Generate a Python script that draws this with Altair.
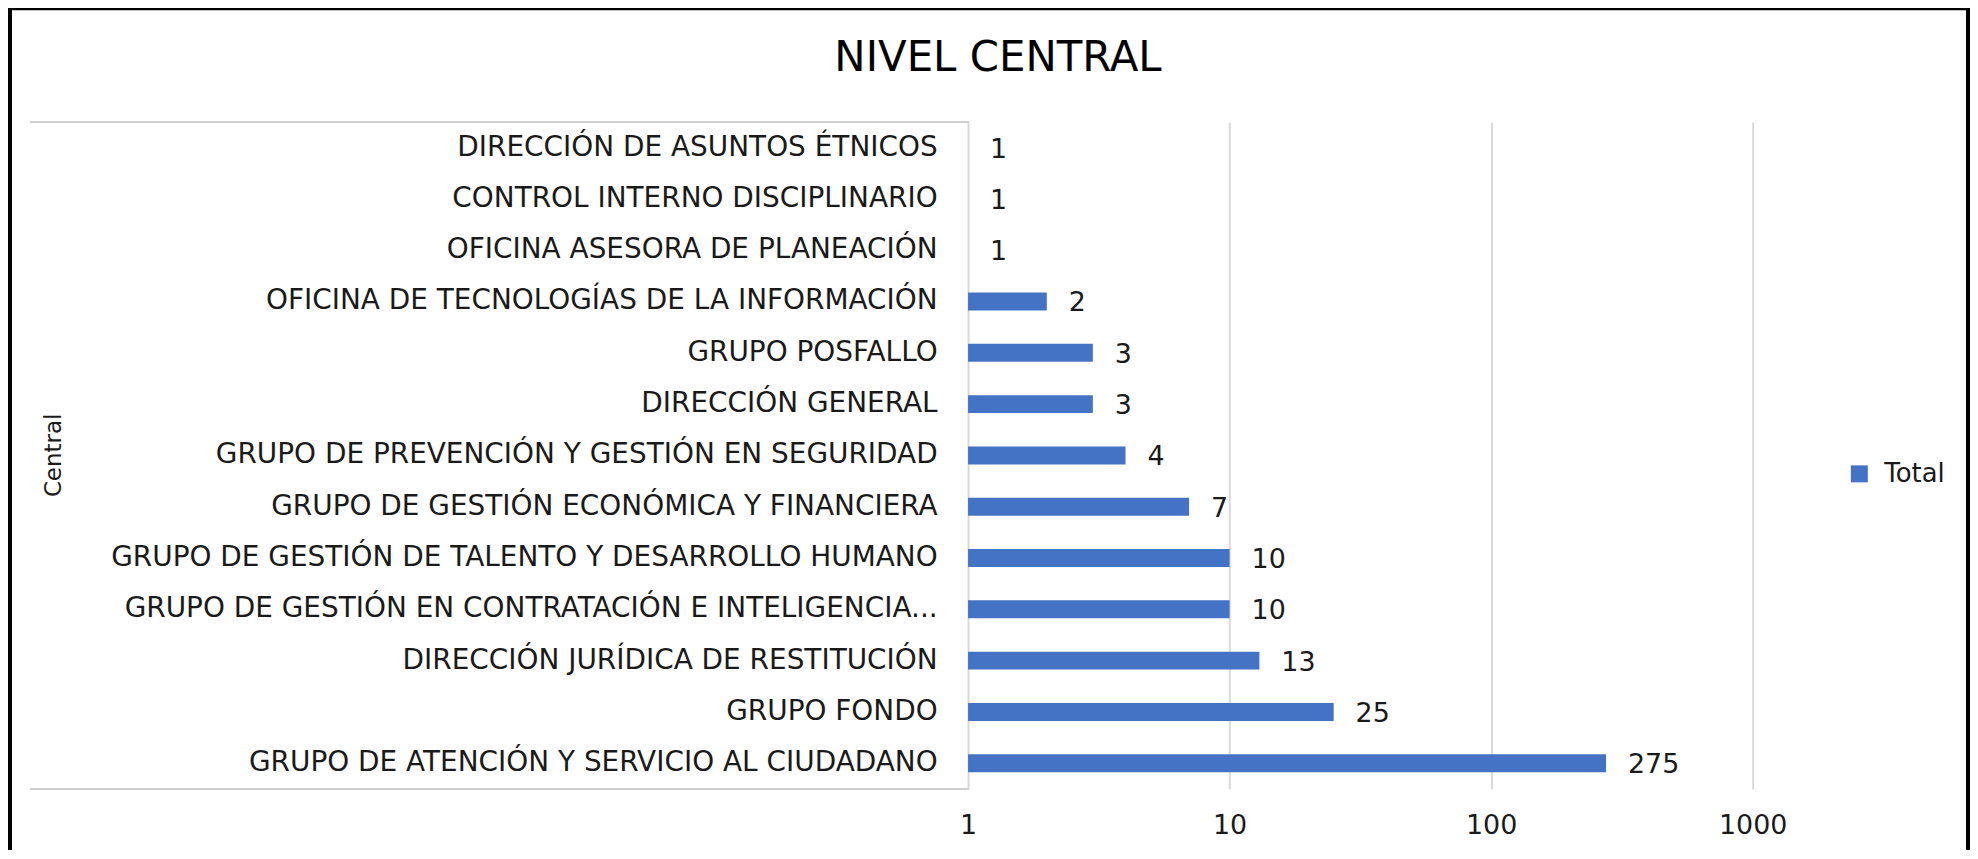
import altair as alt
import pandas as pd

categorias = [
    "DIRECCIÓN DE ASUNTOS ÉTNICOS",
    "CONTROL INTERNO DISCIPLINARIO",
    "OFICINA ASESORA DE PLANEACIÓN",
    "OFICINA DE TECNOLOGÍAS DE LA INFORMACIÓN",
    "GRUPO POSFALLO",
    "DIRECCIÓN GENERAL",
    "GRUPO DE PREVENCIÓN Y GESTIÓN EN SEGURIDAD",
    "GRUPO DE GESTIÓN ECONÓMICA Y FINANCIERA",
    "GRUPO DE GESTIÓN DE TALENTO Y DESARROLLO HUMANO",
    "GRUPO DE GESTIÓN EN CONTRATACIÓN E INTELIGENCIA...",
    "DIRECCIÓN JURÍDICA DE RESTITUCIÓN",
    "GRUPO FONDO",
    "GRUPO DE ATENCIÓN Y SERVICIO AL CIUDADANO",
]
valores = [1, 1, 1, 2, 3, 3, 4, 7, 10, 10, 13, 25, 275]
serie = ["Total"] * len(categorias)
ticks_x = [1, 10, 100, 1000]
base_x = 1

FONT = "DejaVu Sans"
TXT = "#1a1a1a"
BLUE = "#4472c4"

df = pd.DataFrame({"cat": categorias, "valor": valores, "serie": serie})
one = pd.DataFrame({"a": [0]})

W, H = 787, 669

x_enc = alt.X(
    "valor:Q",
    scale=alt.Scale(type="log", domain=[1, 1000], nice=False),
    axis=alt.Axis(
        values=ticks_x, format="d", title=None, domain=False, ticks=False,
        grid=True, gridColor="#d9d9d9", gridWidth=2, labelFlush=False,
        labelFont=FONT, labelFontSize=27, labelColor=TXT, labelPadding=24,
    ),
)
y_enc = alt.Y(
    "cat:N", sort=categorias,
    scale=alt.Scale(paddingInner=0.65, paddingOuter=0.325),
    axis=alt.Axis(
        title="Central", domain=False, ticks=False, grid=False,
        labelFont=FONT, labelFontSize=28, labelColor=TXT, labelPadding=31,
        labelLimit=900,
        titleFont=FONT, titleFontSize=23, titleFontWeight="normal", titleColor=TXT,
        titleAngle=270, titleX=-917, titleY=334, titleAlign="center", titleBaseline="middle",
    ),
)

bars = alt.Chart(df).mark_bar().encode(
    x=x_enc, x2=alt.datum(base_x), y=y_enc,
    color=alt.Color(
        "serie:N",
        scale=alt.Scale(domain=["Total"], range=[BLUE]),
        legend=alt.Legend(
            title=None, orient="none", legendX=881, legendY=340, padding=0,
            symbolType="square", symbolSize=290, symbolStrokeWidth=0,
            labelFont=FONT, labelFontSize=26, labelColor=TXT, labelOffset=12,
        ),
    ),
)

labels = alt.Chart(df).mark_text(
    align="left", baseline="middle", dx=22, dy=2, font=FONT, fontSize=27, color=TXT
).encode(x="valor:Q", y=alt.Y("cat:N", sort=categorias), text="valor:Q")

box_top = alt.Chart(one).mark_rect(color="#d0d0d0").encode(
    x=alt.value(-941), x2=alt.datum(base_x), y=alt.value(-1), y2=alt.value(1)
)
box_bot = alt.Chart(one).mark_rect(color="#d0d0d0").encode(
    x=alt.value(-941), x2=alt.datum(base_x), y=alt.value(H - 1), y2=alt.value(H + 1)
)
frame = alt.Chart(one).mark_rect(fillOpacity=0, stroke="black", strokeWidth=4).encode(
    x=alt.value(-961), x2=alt.value(1003), y=alt.value(-114), y2=alt.value(800)
)
title = alt.Chart(one).mark_text(
    text="NIVEL CENTRAL", font=FONT, fontSize=42, color="#000",
    align="center", baseline="alphabetic",
).encode(x=alt.value(30), y=alt.value(-51))

chart = alt.layer(box_top, box_bot, bars, labels, frame, title).properties(
    width=W, height=H,
    background="white",
    autosize=alt.AutoSizeParams(type="none"),
    padding={"left": 963, "top": 113, "right": 218, "bottom": 60},
).configure_view(strokeWidth=0, strokeOpacity=0)

chart.save("out.html", embed_options={"renderer": "svg", "actions": False})
